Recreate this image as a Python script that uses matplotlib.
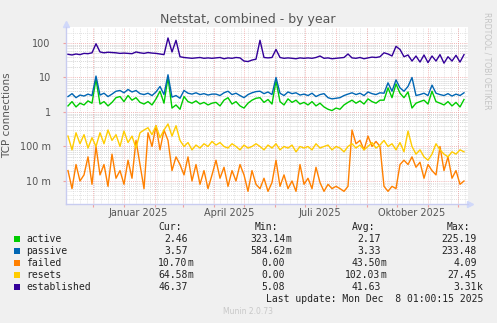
import numpy as np
import pandas as pd
import matplotlib
matplotlib.use("Agg")
import matplotlib.pyplot as plt
import matplotlib.dates as mdates

# ---- data: 4-day averages, Nov 2024 .. Dec 2025 ----
dates = pd.date_range("2024-11-06", periods=100, freq="4D")

established = [
    47, 45, 48, 46, 50, 49, 52, 95, 55, 52, 54, 53, 52, 50,
    51, 50, 49, 55, 52, 50, 53, 51, 50, 48, 46, 140, 55, 120, 40,
    38, 37, 36, 37, 38, 36, 37, 36, 37, 38, 35, 37, 36, 38, 37, 30,
    29, 32, 34, 120, 38, 37, 38, 65, 38, 36, 37, 36, 35, 37, 36,
    37, 36, 38, 42, 36, 37, 35, 36, 37, 38, 48, 37, 36, 38, 35, 37,
    39, 38, 40, 52, 48, 42, 80, 65, 40, 45, 30, 42, 28, 45, 27, 42,
    30, 46, 26, 40, 30, 44, 28, 46]

passive = [
    2.8, 3.4, 2.6, 3.1, 2.9, 3.3, 3.0, 11, 3.1, 3.5, 2.8, 3.3, 4.0, 4.2,
    3.6, 4.5, 3.8, 4.2, 3.4, 3.2, 3.5, 3.0, 3.8, 5.5, 3.2, 12, 2.7, 3.0, 2.5,
    4.2, 3.5, 3.3, 3.6, 3.2, 3.4, 3.1, 3.3, 3.3, 3.0, 3.6, 4.0, 3.2, 3.5, 3.0, 2.6,
    3.2, 3.6, 3.9, 4.0, 3.4, 3.8, 3.2, 10, 3.5, 3.0, 3.8, 3.4, 3.6, 3.1, 3.3,
    3.0, 3.5, 2.8, 3.2, 3.4, 2.6, 2.4, 2.5, 2.6, 3.0, 3.3, 3.6, 3.2, 3.5, 3.0, 3.8,
    3.4, 3.2, 3.6, 3.5, 7.0, 4.0, 8.5, 5.0, 4.0, 5.5, 10, 3.0, 3.2, 3.5, 3.0, 6.0,
    3.5, 3.2, 3.0, 3.4, 2.9, 3.3, 3.0, 3.6]

active = [
    1.5, 2.0, 1.4, 1.8, 1.6, 2.1, 1.8, 9, 1.7, 2.0, 1.5, 1.9, 2.6, 2.8,
    2.0, 3.0, 2.2, 2.6, 1.9, 1.7, 2.0, 1.6, 2.4, 4.0, 1.8, 10, 1.3, 1.6, 1.2,
    2.8, 2.0, 1.8, 2.1, 1.7, 1.9, 1.6, 1.8, 1.9, 1.5, 2.2, 2.6, 1.7, 2.0, 1.5, 1.3,
    1.8, 2.2, 2.5, 2.6, 1.9, 2.3, 1.7, 8, 2.0, 1.6, 2.4, 1.9, 2.2, 1.7, 1.9,
    1.6, 2.0, 1.5, 1.8, 1.4, 1.2, 1.1, 1.3, 1.2, 1.6, 1.9, 2.2, 1.8, 2.1, 1.7, 2.4,
    2.0, 1.8, 2.2, 2.2, 5.0, 2.6, 6.5, 3.5, 2.6, 3.8, 1.3, 1.8, 2.0, 2.2, 1.7, 4.0,
    2.0, 1.8, 1.6, 2.0, 1.5, 1.9, 1.4, 2.3]

resets = [
    0.2, 0.08, 0.25, 0.12, 0.22, 0.09, 0.18, 0.1, 0.25, 0.12, 0.3, 0.15, 0.22, 0.1,
    0.28, 0.13, 0.2, 0.09, 0.25, 0.3, 0.35, 0.22, 0.4, 0.18, 0.3, 0.45, 0.2, 0.4, 0.15,
    0.1, 0.13, 0.08, 0.11, 0.09, 0.12, 0.1, 0.14, 0.11, 0.13, 0.1, 0.09, 0.12, 0.1, 0.08, 0.11,
    0.09, 0.1, 0.12, 0.1, 0.08, 0.11, 0.09, 0.12, 0.08, 0.1, 0.09, 0.11, 0.07, 0.1, 0.09,
    0.1, 0.08, 0.12, 0.09, 0.1, 0.11, 0.08, 0.1, 0.09, 0.07, 0.1, 0.12, 0.09, 0.11, 0.08, 0.1,
    0.13, 0.09, 0.11, 0.15, 0.1, 0.12, 0.08, 0.13, 0.07, 0.28, 0.1, 0.06, 0.08, 0.05, 0.04, 0.06,
    0.12, 0.08, 0.06, 0.05, 0.07, 0.06, 0.08, 0.07]

failed = [
    0.02, 0.006, 0.03, 0.01, 0.015, 0.05, 0.008, 0.1, 0.015, 0.03, 0.007, 0.06, 0.012, 0.02,
    0.008, 0.04, 0.012, 0.15, 0.03, 0.006, 0.25, 0.1, 0.4, 0.08, 0.3, 0.15, 0.02, 0.05, 0.03,
    0.015, 0.05, 0.01, 0.03, 0.008, 0.02, 0.006, 0.015, 0.04, 0.012, 0.025, 0.007, 0.02, 0.01, 0.03, 0.015,
    0.005, 0.02, 0.008, 0.006, 0.012, 0.005, 0.009, 0.04, 0.007, 0.015, 0.006, 0.01, 0.005, 0.03, 0.008,
    0.012, 0.006, 0.025, 0.009, 0.005, 0.008, 0.006, 0.007, 0.006, 0.005, 0.007, 0.3, 0.12, 0.15, 0.08, 0.2,
    0.1, 0.14, 0.1, 0.007, 0.005, 0.007, 0.006, 0.03, 0.04, 0.03, 0.05, 0.025, 0.035, 0.012, 0.03, 0.02,
    0.015, 0.1, 0.02, 0.05, 0.012, 0.02, 0.008, 0.01]

series_names = ["active", "passive", "failed", "resets", "established"]
series_colors = ["#00CC00", "#0066B3", "#FF8000", "#FFCC00", "#330099"]
series_values = [active, passive, failed, resets, established]

legend_cur = ["2.46", "3.57", "10.70m", "64.58m", "46.37"]
legend_min = ["323.14m", "584.62m", "0.00", "0.00", "5.08"]
legend_avg = ["2.17", "3.33", "43.50m", "102.03m", "41.63"]
legend_max = ["225.19", "233.48", "4.09", "27.45", "3.31k"]

y_ticks = [0.01, 0.1, 1, 10, 100]
y_ticklabels = ["10 m", "100 m", "1", "10", "100"]
x_labels = ["Januar 2025", "April 2025", "Juli 2025", "Oktober 2025"]
x_label_dates = ["2025-01-15", "2025-04-16", "2025-07-16", "2025-10-16"]

# ---- figure ----
W, H = 497, 323
fig = plt.figure(figsize=(W / 100, H / 100), dpi=100, facecolor="#F0F0F0")

L, R, T, B = 66, 468, 27, 204
ax = fig.add_axes([L / W, 1 - B / H, (R - L) / W, (B - T) / H])
ax.set_facecolor("white")
ax.set_yscale("log")
x0 = mdates.date2num(pd.Timestamp("2024-11-04"))
x1 = mdates.date2num(pd.Timestamp("2025-12-11"))
ax.set_xlim(x0, x1)
ax.set_ylim(0.00215, 291)

# grid: gray minor, red major
for dec in [0.01, 0.1, 1, 10]:
    for k in range(2, 10):
        ax.axhline(dec * k, color="#D8D8D8", lw=0.6, ls=(0, (1, 1.5)), zorder=1)
for d in [0.001, 0.01, 0.1, 1, 10, 100]:
    for k in range(2, 10):
        if 0.00215 < d * k < 291:
            ax.axhline(d * k, color="#D8D8D8", lw=0.6, ls=(0, (1, 1.5)), zorder=1)
for v in y_ticks:
    ax.axhline(v, color="#F0A0A0", lw=0.6, ls=(0, (1, 1.5)), zorder=1.5)

weeks = pd.date_range("2024-11-04", "2025-12-11", freq="W-MON")
for w in weeks:
    ax.axvline(mdates.date2num(w), color="#D8D8D8", lw=0.6, ls=(0, (1, 1.5)), zorder=1)
months = pd.date_range("2024-12-01", "2025-12-01", freq="MS")
for m in months:
    ax.axvline(mdates.date2num(m), color="#F0A0A0", lw=0.6, ls=(0, (1, 1.5)), zorder=1.5)

# series
xd = mdates.date2num(dates)
for name, col, vals in zip(series_names, series_colors, series_values):
    ax.plot(xd, vals, color=col, lw=1.0, zorder=3)

# axes styling
for s in ["top", "right"]:
    ax.spines[s].set_visible(False)
for s in ["left", "bottom"]:
    ax.spines[s].set_color("#C8CCF0")
    ax.spines[s].set_linewidth(1.0)
ax.set_yticks(y_ticks)
ax.set_yticklabels(y_ticklabels)
ax.yaxis.set_minor_locator(matplotlib.ticker.NullLocator())
ax.tick_params(axis="y", length=2, color="#F0A0A0", labelsize=7, labelcolor="#555555", pad=9)
ax.set_xticks([mdates.date2num(m) for m in months])
ax.set_xticklabels([])
ax.tick_params(axis="x", length=2, color="#F0A0A0")
for lab, d in zip(x_labels, x_label_dates):
    ax.text(mdates.date2num(pd.Timestamp(d)), -0.025, lab, transform=ax.get_xaxis_transform(),
            ha="center", va="top", fontsize=7, color="#555555")

# axis arrows
ax.plot([0], [1.015], marker="^", ms=4, color="#D0D8FA", transform=ax.transAxes, clip_on=False)
ax.plot([1.006], [0], marker=">", ms=4, color="#D0D8FA", transform=ax.transAxes, clip_on=False)

ax.set_ylabel("TCP connections", fontsize=7.5, color="#555555", labelpad=8)
ax.yaxis.set_label_coords(-12 / (R - L) * 0 + (12 - L) / (R - L), 0.5)

# title and side text
fig.text(248 / W, 1 - 19 / H, "Netstat, combined - by year", ha="center", va="center",
         fontsize=9, color="#555555")
fig.text(487 / W, 1 - 12 / H, "RRDTOOL / TOBI OETIKER", ha="center", va="top",
         rotation=270, fontsize=5.5, color="#C4C4C4")

# legend table
mono = "DejaVu Sans Mono"
fs = 7
tc = "#222222"


def yf(py):
    return 1 - py / H


fig.text(182 / W, yf(227), "Cur:", ha="right", va="center", family=mono, fontsize=fs, color=tc)
fig.text(278 / W, yf(227), "Min:", ha="right", va="center", family=mono, fontsize=fs, color=tc)
fig.text(375 / W, yf(227), "Avg:", ha="right", va="center", family=mono, fontsize=fs, color=tc)
fig.text(470 / W, yf(227), "Max:", ha="right", va="center", family=mono, fontsize=fs, color=tc)


def put_value(xr, py, s):
    if s[-1] in "mk":
        num, suf = s[:-1], s[-1]
    else:
        num, suf = s, ""
    fig.text(xr / W, yf(py), num, ha="right", va="center", family=mono, fontsize=fs, color=tc)
    if suf:
        fig.text(xr / W, yf(py), suf, ha="left", va="center", family=mono, fontsize=fs, color=tc)


row_y = [239, 251, 263, 275, 287]
for i, name in enumerate(series_names):
    py = row_y[i]
    fig.patches.append(matplotlib.patches.Rectangle(
        (14 / W, yf(py + 3)), 6 / W, 6 / H, transform=fig.transFigure,
        facecolor=series_colors[i], edgecolor="none"))
    fig.text(26.5 / W, yf(py), name, ha="left", va="center", family=mono, fontsize=fs, color=tc)
    put_value(187.7, py, legend_cur[i])
    put_value(285.3, py, legend_min[i])
    put_value(380.5, py, legend_avg[i])
    put_value(477.0, py, legend_max[i])

fig.text(483 / W, yf(299), "Last update: Mon Dec  8 01:00:15 2025", ha="right", va="center",
         family=mono, fontsize=fs, color=tc)
fig.text(248 / W, yf(312), "Munin 2.0.73", ha="center", va="center", fontsize=5.5, color="#C8C8C8")

fig.savefig("out.png", dpi=100, facecolor=fig.get_facecolor())
